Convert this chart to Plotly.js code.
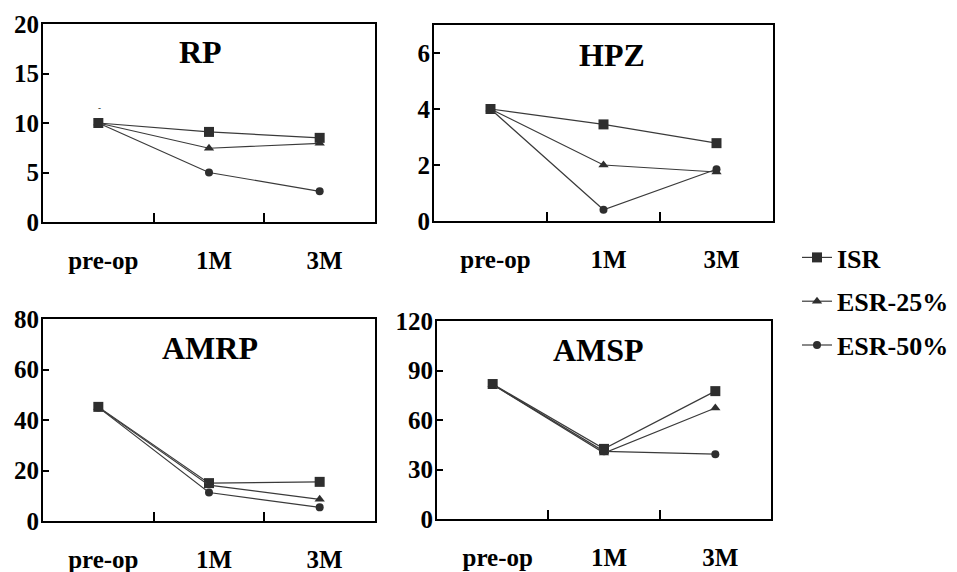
<!DOCTYPE html>
<html>
<head>
<meta charset="utf-8">
<script src="https://cdn.plot.ly/plotly-3.0.1.min.js"></script>
<style>html,body{margin:0;padding:0;background:#fff;}#chart{width:957px;height:572px;}</style>
</head>
<body>
<div id="chart"></div>
<script>
// ---- data ----
const timepoints = ["pre-op", "1M", "3M"];
const seriesNames = ["ISR", "ESR-25%", "ESR-50%"];
const panelTitles = ["RP", "HPZ", "AMRP", "AMSP"];

const rpISR   = [10, 9.1, 8.5];
const rpESR25 = [10, 7.45, 7.95];
const rpESR50 = [10, 5.0, 3.1];

const hpzISR   = [4, 3.45, 2.78];
const hpzESR25 = [4, 2.0, 1.75];
const hpzESR50 = [4, 0.4, 1.85];

const amrpISR   = [45.2, 15.0, 15.5];
const amrpESR25 = [45, 14.2, 8.6];
const amrpESR50 = [45, 11.3, 5.4];

const amspISR   = [81.8, 42.5, 77.5];
const amspESR25 = [81.5, 40.0, 67.3];
const amspESR50 = [81.5, 41.0, 39.3];

const yRanges = [[0, 20], [0, 7], [0, 80], [0, 120]];
const yDticks = [5, 2, 20, 30];

// ---- styling ----
const FONT = "Liberation Serif, Times New Roman, serif";
const symbols = ["square", "triangle-up", "circle"];
const msizes = [10, 9, 8];
const panelData = [
  [rpISR, rpESR25, rpESR50],
  [hpzISR, hpzESR25, hpzESR50],
  [amrpISR, amrpESR25, amrpESR50],
  [amspISR, amspESR25, amspESR50]
];

const traces = [];
panelData.forEach((sets, p) => {
  const ax = p === 0 ? "" : String(p + 1);
  sets.forEach((vals, s) => {
    traces.push({
      type: "scatter", mode: "lines+markers",
      x: timepoints, y: vals,
      xaxis: "x" + ax, yaxis: "y" + ax,
      name: seriesNames[s], legendgroup: seriesNames[s],
      showlegend: p === 0,
      line: {color: "#3a3a3a", width: 1.2},
      marker: {symbol: symbols[s], size: msizes[s], color: "#2e2e2e"},
      hoverinfo: "x+y+name"
    });
  });
});

const px = (a, b) => [a / 957, b / 957];
const py = (top, bottom) => [(572 - bottom) / 572, (572 - top) / 572];
const doms = [
  {x: px(43, 375), y: py(24, 222)},
  {x: px(434, 773), y: py(25, 221)},
  {x: px(43, 375), y: py(319, 521)},
  {x: px(437, 771), y: py(321, 519)}
];

const tickFont = {family: FONT, size: 25, color: "#000", weight: "bold"};
const layout = {
  width: 957, height: 572,
  margin: {l: 0, r: 0, t: 0, b: 0},
  paper_bgcolor: "#fff", plot_bgcolor: "#fff",
  font: {family: FONT, color: "#000"},
  showlegend: true,
  legend: {
    x: 797 / 957, y: 1 - 234 / 572, xanchor: "left", yanchor: "top",
    font: {family: FONT, size: 26, color: "#000", weight: "bold"},
    traceorder: "grouped", tracegroupgap: 7,
    bgcolor: "rgba(0,0,0,0)", borderwidth: 0
  },
  annotations: [],
  hovermode: "closest"
};

doms.forEach((d, i) => {
  const k = i === 0 ? "" : String(i + 1);
  layout["xaxis" + k] = {
    domain: d.x, anchor: "y" + k, type: "category",
    range: [-0.5, 2.5], tickson: "boundaries",
    ticks: "inside", ticklen: 9, tickwidth: 1.5, tickcolor: "#000",
    showline: true, mirror: true, linecolor: "#000", linewidth: 2,
    showgrid: false, zeroline: false,
    tickfont: tickFont, ticklabelstandoff: 15, ticklabelshift: 5,
    fixedrange: true
  };
  layout["yaxis" + k] = {
    domain: d.y, anchor: "x" + k,
    range: yRanges[i], dtick: yDticks[i], tick0: 0,
    ticks: "inside", ticklen: 6, tickwidth: 2, tickcolor: "#000",
    showline: true, mirror: true, linecolor: "#000", linewidth: 2,
    showgrid: false, zeroline: false,
    tickfont: tickFont, ticklabelstandoff: -3,
    fixedrange: true
  };
  const titleX = [200, 612, 210, 598][i];
  const titleY = [52, 55, 348, 350][i];
  layout.annotations.push({
    text: panelTitles[i], xref: "paper", yref: "paper",
    x: titleX / 957, y: 1 - titleY / 572, xanchor: "center", yanchor: "middle",
    showarrow: false,
    font: {family: FONT, size: 32, color: "#000", weight: "bold"}
  });
});
// small stray mark in the RP panel of the original
layout.annotations.push({
  text: "-", xref: "paper", yref: "paper", x: 96 / 957, y: 1 - 101 / 572,
  showarrow: false, font: {family: FONT, size: 9, color: "#000"}
});

Plotly.newPlot("chart", traces, layout, {displayModeBar: false, staticPlot: false});
</script>
</body>
</html>
